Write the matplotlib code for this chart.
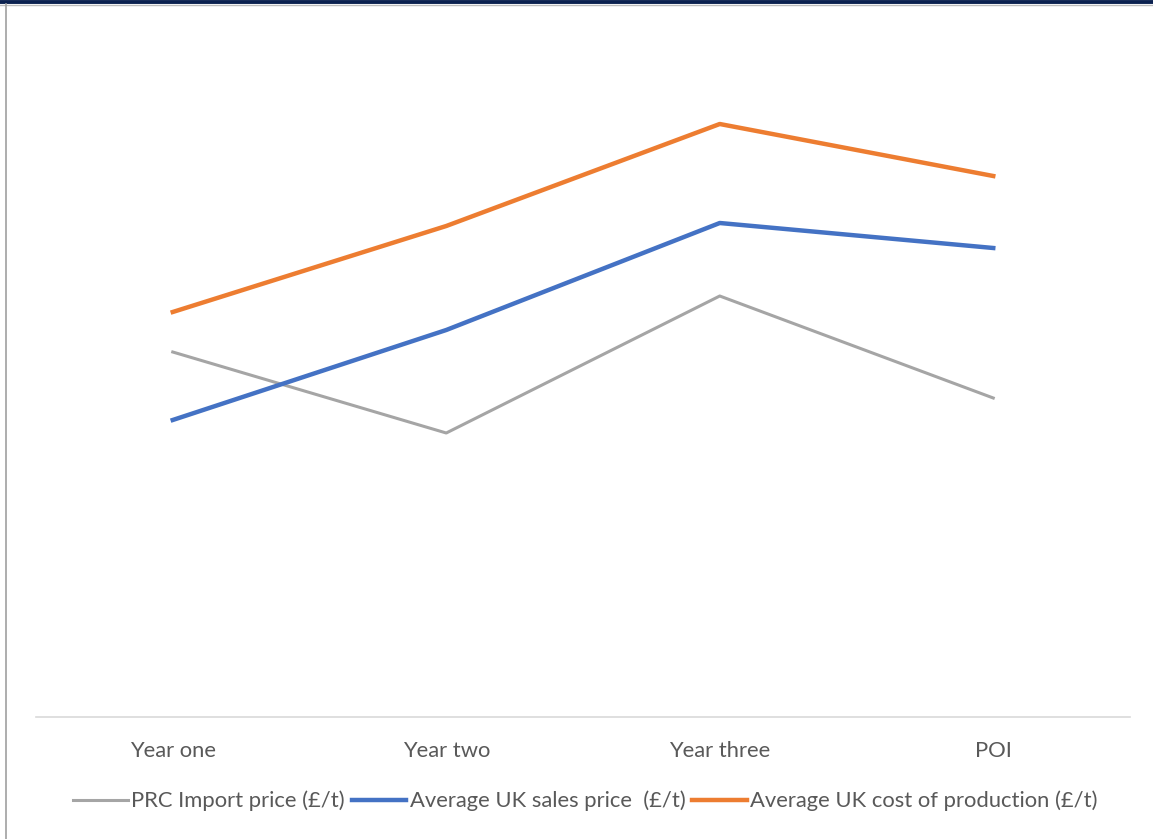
import matplotlib.pyplot as plt
from matplotlib.lines import Line2D

# Categories and series (relative values, no y scale shown on the chart)
years = ['Year one', 'Year two', 'Year three', 'POI']
prc_import = [365, 284, 421, 319]
uk_sales = [297, 387, 494, 469]
uk_cost = [405, 491, 593, 541]

labels = ['PRC Import price (£/t)', 'Average UK sales price  (£/t)',
          'Average UK cost of production (£/t)']
colors = ['#A5A5A5', '#4472C4', '#ED7D31']

plt.rcParams['font.family'] = ['Lato', 'DejaVu Sans']

W, H = 1153, 839
fig = plt.figure(figsize=(W / 100, H / 100), dpi=100)
ax = fig.add_axes([36 / W, (H - 717) / H, (1130 - 36) / W, (717 - 20) / H])

x = range(len(years))
ax.plot(x, prc_import, color=colors[0], lw=2.2, label=labels[0])
ax.plot(x, uk_sales, color=colors[1], lw=3.2, label=labels[1])
ax.plot(x, uk_cost, color=colors[2], lw=3.2, label=labels[2])

ax.set_xlim(-0.5, len(years) - 0.5)
ax.set_ylim(0, 697)
ax.set_xticks(list(x))
ax.set_xticklabels(years, fontsize=15.8, color='#595959')
ax.tick_params(axis='x', length=0, pad=17)
ax.set_yticks([])
for s in ['top', 'right', 'left']:
    ax.spines[s].set_visible(False)
ax.spines['bottom'].set_color('#D9D9D9')
ax.spines['bottom'].set_linewidth(1.2)

fig.legend(loc='center', bbox_to_anchor=(0.5 + 9 / W, (H - 801) / H), ncol=3,
           frameon=False, fontsize=15.8, handlelength=2.5, handletextpad=0.15,
           columnspacing=0.3, labelcolor='#595959')

# window border bits
fig.add_artist(Line2D([0, 1], [1 - 1.5 / H, 1 - 1.5 / H], color='#0B2150', lw=2.8))
fig.add_artist(Line2D([0, 1], [1 - 4.5 / H, 1 - 4.5 / H], color='#BDBDBD', lw=1))
fig.add_artist(Line2D([6 / W, 6 / W], [0, 1 - 4 / H], color='#A0A0A0', lw=1.2))

fig.savefig('out.png', dpi=100)
